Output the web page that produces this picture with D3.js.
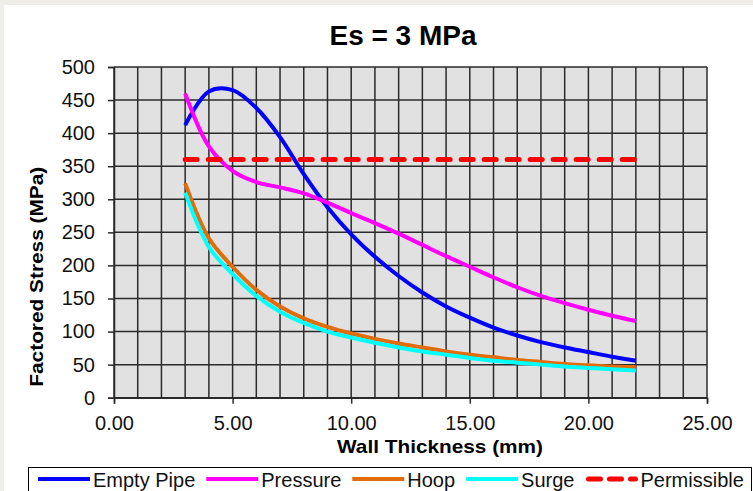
<!DOCTYPE html>
<html>
<head>
<meta charset="utf-8">
<script src="https://cdn.jsdelivr.net/npm/d3@7"></script>
<style>
  body { margin: 0; background: #eeede9; }
  svg { display: block; font-family: "Liberation Sans", Arial, sans-serif; }
</style>
</head>
<body>
<div id="plot"></div>
<script>
// wall thickness (mm)
var thickness = [3, 4, 5, 6, 7, 8, 9, 10, 11, 12, 13, 14, 15, 16, 17, 18, 19, 20, 21, 22];

var emptyPipe = [412, 463, 465, 438, 394, 338, 288, 247, 213, 184, 159, 138, 121, 106, 94, 84, 76, 69, 62, 56];
var pressure = [460, 380, 343, 326, 318, 309, 295, 279, 264, 248, 231, 214, 198, 182, 167, 154, 143, 133, 124, 116];
var hoop = [324, 241, 198, 163, 138, 120, 107, 97, 89, 82, 76, 70, 65, 61, 57, 54, 51, 49, 47, 46];
var surge = [310, 228, 187, 154, 130, 113, 100, 91, 83, 76, 70, 65, 60, 56, 53, 50, 47, 45, 43, 41];
var permissible = [360, 360, 360, 360, 360, 360, 360, 360, 360, 360, 360, 360, 360, 360, 360, 360, 360, 360, 360, 360];

var seriesNames = ['Empty Pipe', 'Pressure', 'Hoop', 'Surge', 'Permissible'];
var seriesColors = ['#0000ff', '#ff00ff', '#e36c0a', '#00ffff', '#ff0000'];

var xTicks = [0, 5, 10, 15, 20, 25];
var yTicks = [0, 50, 100, 150, 200, 250, 300, 350, 400, 450, 500];

var svg = d3.select('#plot')
    .append('svg')
    .attr('width', 753)
    .attr('height', 491);

svg.append('rect')
    .attr('x', 4)
    .attr('y', 5)
    .attr('width', 749)
    .attr('height', 486)
    .attr('fill', '#ffffff');

var x = d3.scaleLinear().domain([0, 25]).range([114, 707]);
var y = d3.scaleLinear().domain([0, 500]).range([397.7, 67]);

// plot area
svg.append('rect')
    .attr('x', x(0))
    .attr('y', y(500))
    .attr('width', x(25) - x(0))
    .attr('height', y(0) - y(500))
    .attr('fill', '#e1e1e1');

var grid = svg.append('g')
    .attr('stroke', '#2b2b2b')
    .attr('stroke-width', 1.5);

grid.selectAll('line.v')
    .data(x.ticks(25))
    .enter()
    .append('line')
    .attr('x1', function (d) { return x(d); })
    .attr('x2', function (d) { return x(d); })
    .attr('y1', y(0))
    .attr('y2', y(500));

grid.selectAll('line.h')
    .data(yTicks)
    .enter()
    .append('line')
    .attr('x1', x(0))
    .attr('x2', x(25))
    .attr('y1', function (d) { return y(d); })
    .attr('y2', function (d) { return y(d); });

var xAxis = svg.append('g')
    .attr('transform', 'translate(0,' + y(0) + ')')
    .call(d3.axisBottom(x).tickValues(xTicks).tickSize(6).tickPadding(12)
        .tickFormat(d3.format('.2f')));

var yAxis = svg.append('g')
    .attr('transform', 'translate(' + x(0) + ',0)')
    .call(d3.axisLeft(y).tickValues(yTicks).tickSize(6).tickPadding(13));

[xAxis, yAxis].forEach(function (ax) {
    ax.select('.domain').attr('stroke', '#2b2b2b').attr('stroke-width', 1.5);
    ax.selectAll('.tick line').attr('stroke', '#2b2b2b').attr('stroke-width', 1.5);
    ax.selectAll('.tick text')
        .attr('font-size', 20)
        .attr('font-family', '"Liberation Sans", Arial, sans-serif')
        .attr('fill', '#111');
});

var line = d3.line()
    .x(function (d) { return x(d[0]); })
    .y(function (d) { return y(d[1]); })
    .curve(d3.curveCatmullRom.alpha(0.5));

var allSeries = [emptyPipe, pressure, hoop, surge];
allSeries.forEach(function (vals, i) {
    svg.append('path')
        .attr('d', line(thickness.map(function (t, j) { return [t, vals[j]]; })))
        .attr('fill', 'none')
        .attr('stroke', seriesColors[i])
        .attr('stroke-width', 4)
        .attr('stroke-linejoin', 'round');
});

svg.append('path')
    .attr('d', line(thickness.map(function (t, j) { return [t, permissible[j]]; })))
    .attr('fill', 'none')
    .attr('stroke', seriesColors[4])
    .attr('stroke-width', 5)
    .attr('stroke-linecap', 'round')
    .attr('stroke-dasharray', '12,11');

// titles
svg.append('text')
    .attr('x', 403)
    .attr('y', 45)
    .attr('text-anchor', 'middle')
    .attr('font-size', 28)
    .attr('font-weight', 'bold')
    .text('Es = 3 MPa');

svg.append('text')
    .attr('x', 440)
    .attr('y', 453)
    .attr('text-anchor', 'middle')
    .attr('font-size', 19)
    .attr('font-weight', 'bold')
    .attr('textLength', 206)
    .attr('lengthAdjust', 'spacingAndGlyphs')
    .text('Wall Thickness (mm)');

svg.append('text')
    .attr('transform', 'translate(43,276.7) rotate(-90)')
    .attr('text-anchor', 'middle')
    .attr('font-size', 19)
    .attr('font-weight', 'bold')
    .attr('textLength', 220)
    .attr('lengthAdjust', 'spacingAndGlyphs')
    .text('Factored Stress (MPa)');

// legend
svg.append('rect')
    .attr('x', 28.5)
    .attr('y', 467.5)
    .attr('width', 723)
    .attr('height', 32)
    .attr('fill', '#ffffff')
    .attr('stroke', '#000')
    .attr('stroke-width', 1);

var lx = 38;
seriesNames.forEach(function (name, i) {
    var ln = svg.append('line')
        .attr('x1', lx)
        .attr('x2', lx + 52)
        .attr('y1', 479)
        .attr('y2', 479)
        .attr('stroke', seriesColors[i])
        .attr('stroke-width', i === 4 ? 5 : 4);
    if (i === 4) {
        ln.attr('x1', lx + 3).attr('x2', lx + 50)
            .attr('stroke-linecap', 'round')
            .attr('stroke-dasharray', '12,9');
    }
    var t = svg.append('text')
        .attr('x', lx + 55)
        .attr('y', 486.5)
        .attr('font-size', 20)
        .attr('fill', '#111')
        .text(name);
    lx = lx + 55 + t.node().getComputedTextLength() + 11;
});
</script>
</body>
</html>
